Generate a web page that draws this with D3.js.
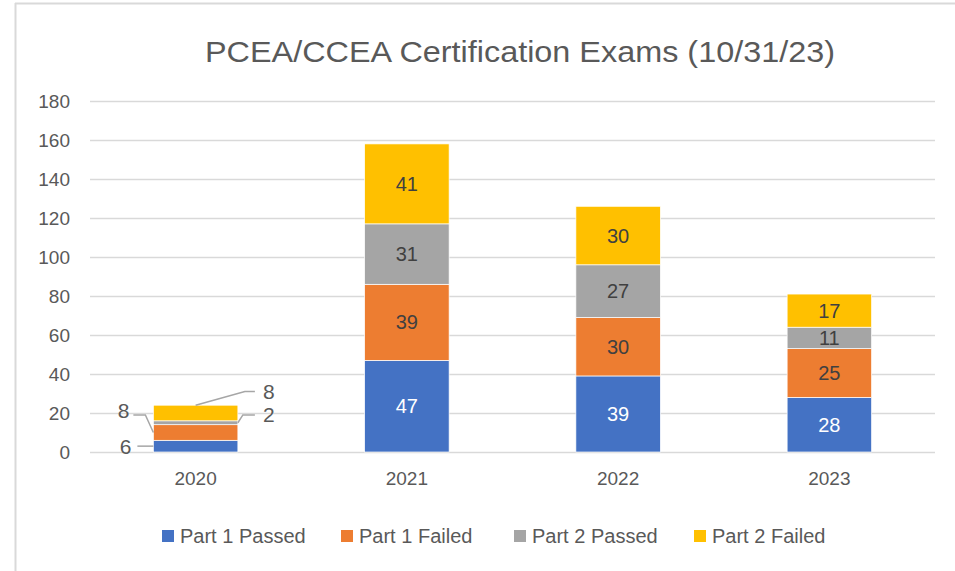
<!DOCTYPE html>
<html>
<head>
<meta charset="utf-8">
<script src="https://cdn.jsdelivr.net/npm/d3@7"></script>
<style>
  body { margin: 0; background: #fff; }
  svg { display: block; font-family: "Liberation Sans", Arial, sans-serif; }
</style>
</head>
<body>
<svg id="chart" width="955" height="571"></svg>
<script>
// data
var years = ["2020", "2021", "2022", "2023"];
var seriesNames = ["Part 1 Passed", "Part 1 Failed", "Part 2 Passed", "Part 2 Failed"];
var part1Passed = [6, 47, 39, 28];
var part1Failed = [8, 39, 30, 25];
var part2Passed = [2, 31, 27, 11];
var part2Failed = [8, 41, 30, 17];
var yTicks = [0, 20, 40, 60, 80, 100, 120, 140, 160, 180];

var colors = ["#4472c4", "#ed7d31", "#a5a5a5", "#ffc000"];
var labelColors = ["#ffffff", "#404040", "#404040", "#404040"];

var svg = d3.select("#chart");
var width = 955, height = 571;
var margin = {left: 90, right: 20, top: 101, bottom: 119};

// outer frame (only left and top edges show)
svg.append("line").attr("x1", 15.5).attr("x2", 15.5).attr("y1", 3).attr("y2", height)
  .attr("stroke", "#d9d9d9").attr("stroke-width", 2);
svg.append("line").attr("x1", 15).attr("x2", width).attr("y1", 3.5).attr("y2", 3.5)
  .attr("stroke", "#d9d9d9").attr("stroke-width", 2);

svg.append("text")
  .attr("x", 520).attr("y", 62)
  .attr("text-anchor", "middle")
  .attr("font-size", 30)
  .attr("textLength", 630)
  .attr("lengthAdjust", "spacingAndGlyphs")
  .attr("fill", "#595959")
  .text("PCEA/CCEA Certification Exams (10/31/23)");

var x = d3.scaleBand().domain(years).range([margin.left, width - margin.right]).paddingInner(0.6).paddingOuter(0.3);
var y = d3.scaleLinear().domain([0, 180]).range([height - margin.bottom, margin.top]);

// gridlines
svg.append("g").selectAll("line").data(yTicks).enter().append("line")
  .attr("x1", margin.left).attr("x2", width - margin.right)
  .attr("y1", function (d) { return Math.round(y(d)) + 0.5; })
  .attr("y2", function (d) { return Math.round(y(d)) + 0.5; })
  .attr("stroke", "#d9d9d9").attr("stroke-width", 1.5);

// y axis labels
var yAxis = svg.append("g").attr("transform", "translate(" + (margin.left - 20) + ",0)")
  .call(d3.axisLeft(y).tickValues(yTicks).tickSize(0).tickPadding(0));
yAxis.select(".domain").remove();
yAxis.selectAll("text").attr("font-size", 19).attr("fill", "#595959")
  .attr("font-family", "Liberation Sans, Arial, sans-serif");

// x axis labels
var xAxis = svg.append("g").attr("transform", "translate(0," + y(0) + ")")
  .call(d3.axisBottom(x).tickSize(0).tickPadding(20));
xAxis.select(".domain").remove();
xAxis.selectAll("text").attr("font-size", 19).attr("fill", "#595959")
  .attr("font-family", "Liberation Sans, Arial, sans-serif");

var rows = years.map(function (yr, i) {
  return {year: yr, s0: part1Passed[i], s1: part1Failed[i], s2: part2Passed[i], s3: part2Failed[i]};
});
var stack = d3.stack().keys(["s0", "s1", "s2", "s3"]);
var layers = stack(rows);

var layerG = svg.append("g").selectAll("g").data(layers).enter().append("g")
  .attr("fill", function (d, i) { return colors[i]; });

layerG.selectAll("rect").data(function (d) { return d; }).enter().append("rect")
  .attr("x", function (d) { return x(d.data.year); })
  .attr("width", x.bandwidth())
  .attr("y", function (d) { return y(d[1]); })
  .attr("height", function (d) { return y(d[0]) - y(d[1]); })
  .attr("stroke", "#ffffff").attr("stroke-width", 0.7);

// labels inside bars (skip 2020, labelled with leader lines)
layers.forEach(function (layer, li) {
  svg.append("g").selectAll("text").data(layer.filter(function (d) { return d.data.year !== "2020"; }))
    .enter().append("text")
    .attr("x", function (d) { return x(d.data.year) + x.bandwidth() / 2; })
    .attr("y", function (d) { return (y(d[0]) + y(d[1])) / 2; })
    .attr("dy", "0.35em")
    .attr("text-anchor", "middle")
    .attr("font-size", 20)
    .attr("fill", labelColors[li])
    .text(function (d) { return d[1] - d[0]; });
});

// 2020 labels with leader lines
var b0 = layers.map(function (l) { return l[0]; });
var bx = x("2020"), bw = x.bandwidth();
var lead = svg.append("g").attr("fill", "none").attr("stroke", "#a6a6a6").attr("stroke-width", 1.5);
var outLabels = [
  {pts: [[bx, y(b0[0][1] - 3)], [bx - 16, y(b0[0][1] - 3)]], tx: bx - 22, ty: y(b0[0][1] - 3), anchor: "end"},
  {pts: [[bx, y((b0[1][0] + b0[1][1]) / 2) ], [bx - 8, y(b0[1][1] + 5)], [bx - 20, y(b0[1][1] + 5)]], tx: bx - 24, ty: y(b0[1][1] + 5) - 4, anchor: "end"},
  {pts: [[bx + bw, y((b0[2][0] + b0[2][1]) / 2)], [bx + bw + 5, y(b0[2][1] + 3)], [bx + bw + 17, y(b0[2][1] + 3)]], tx: bx + bw + 25, ty: y(b0[2][1] + 3), anchor: "start"},
  {pts: [[bx + bw / 2, y(b0[3][1])], [bx + bw + 7, y(b0[3][1] + 7)], [bx + bw + 17, y(b0[3][1] + 7)]], tx: bx + bw + 25, ty: y(b0[3][1] + 7), anchor: "start"}
];
outLabels.forEach(function (o, i) {
  lead.append("polyline").attr("points", o.pts.map(function (p) { return p.join(","); }).join(" "));
  svg.append("text")
    .attr("x", o.tx).attr("y", o.ty).attr("dy", "0.35em")
    .attr("text-anchor", o.anchor)
    .attr("font-size", 21).attr("fill", "#595959")
    .text(b0[i][1] - b0[i][0]);
});

// legend
var legendX = [162, 341, 514, 694];
var legend = svg.append("g").selectAll("g").data(seriesNames).enter().append("g")
  .attr("transform", function (d, i) { return "translate(" + legendX[i] + ",536)"; });
legend.append("rect").attr("x", 0).attr("y", -6).attr("width", 12).attr("height", 12)
  .attr("fill", function (d, i) { return colors[i]; });
legend.append("text").attr("x", 18).attr("dy", "0.35em")
  .attr("font-size", 20).attr("fill", "#595959")
  .text(function (d) { return d; });
</script>
</body>
</html>
